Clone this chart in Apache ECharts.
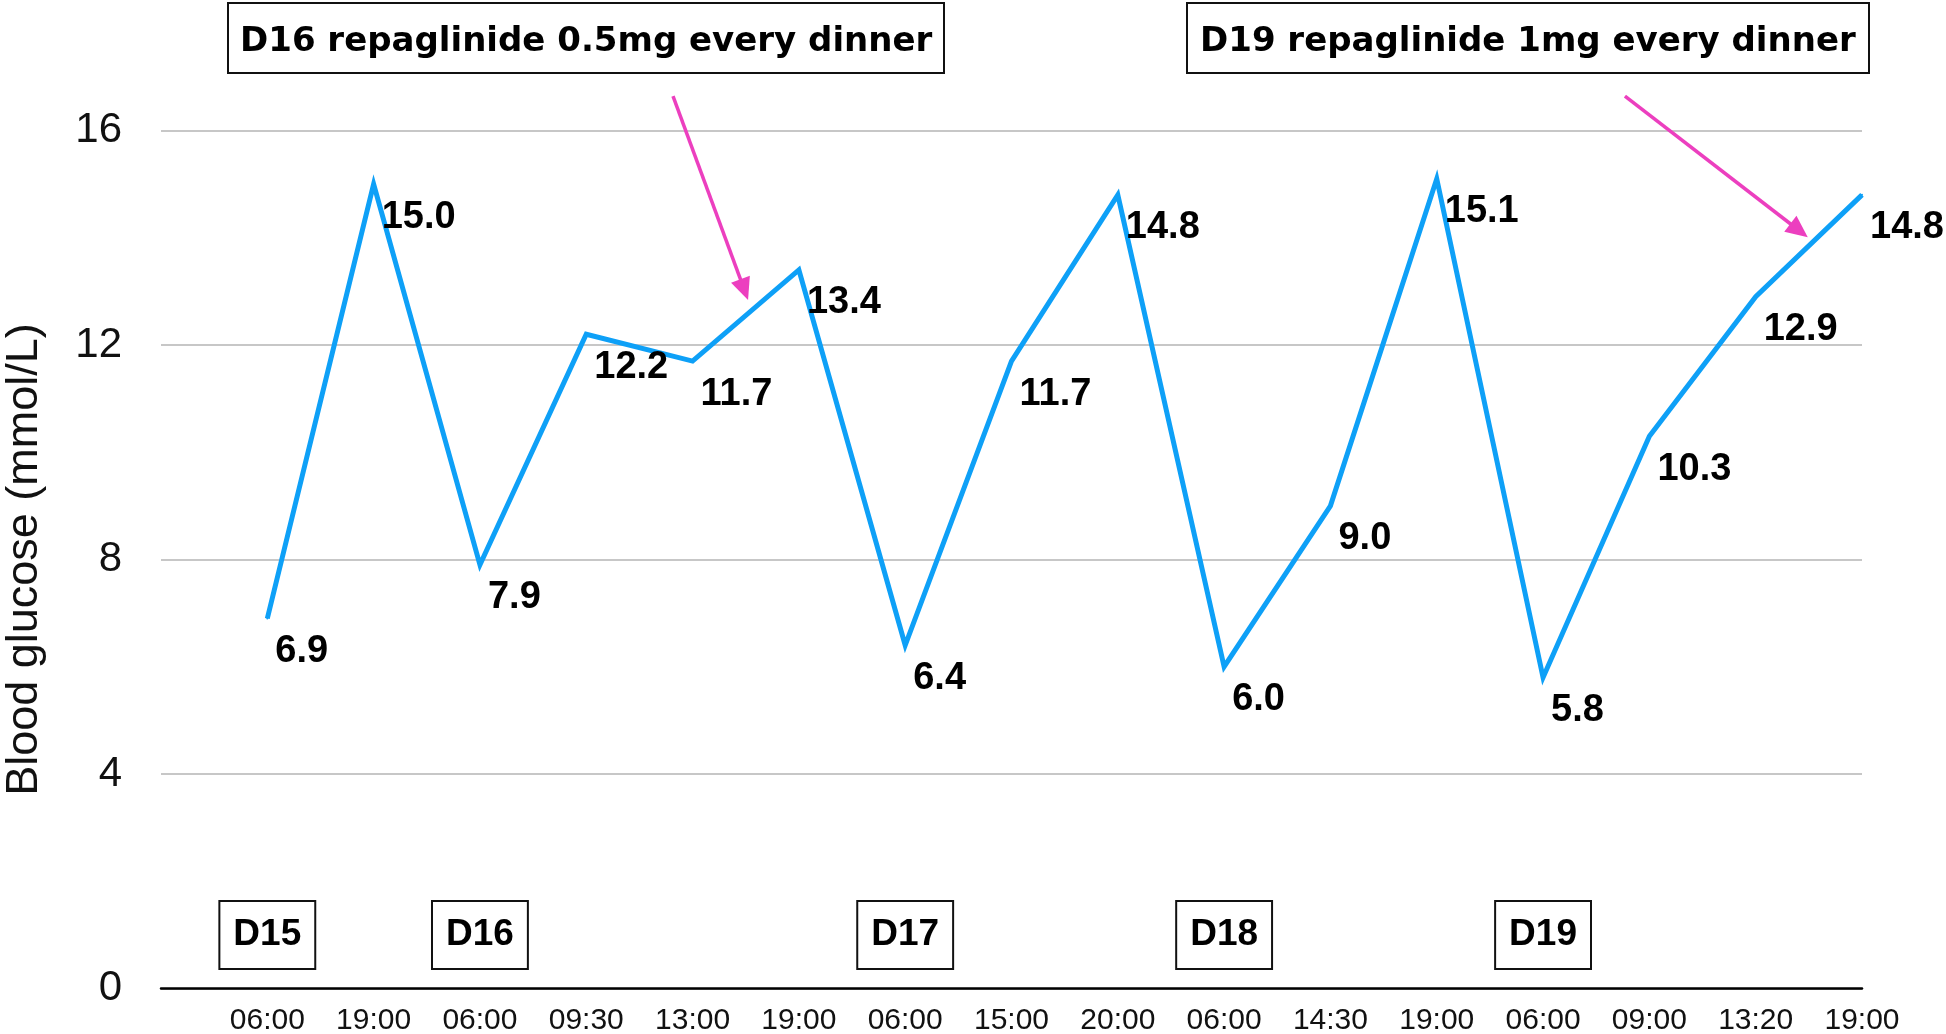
<!DOCTYPE html>
<html>
<head>
<meta charset="utf-8">
<script src="https://cdn.jsdelivr.net/npm/echarts@6/dist/echarts.min.js"></script>
<style>
html,body{margin:0;padding:0;background:#fff;}
#chart{width:1946px;height:1034px;}
</style>
</head>
<body>
<div id="chart"></div>
<script>
// ---- data ----
const timeLabels = ['06:00','19:00','06:00','09:30','13:00','19:00','06:00','15:00','20:00','06:00','14:30','19:00','06:00','09:00','13:20','19:00'];
const glucose = [6.9,15.0,7.9,12.2,11.7,13.4,6.4,11.7,14.8,6.0,9.0,15.1,5.8,10.3,12.9,14.8];
const dayLabels = ['D15','D16','D17','D18','D19'];
const dayStartIndex = [0,2,6,9,12];
const noteTexts = ['D16 repaglinide 0.5mg every dinner','D19 repaglinide 1mg every dinner'];
const yTicks = [0,4,8,12,16];

// ---- chart ----
const chart = echarts.init(document.getElementById('chart'), null, {renderer:'canvas'});
const lineData = glucose.map((v,i)=>[i+1, v]);
const dayData = dayStartIndex.map((idx,k)=>({value:[idx+1, 1.0], name: dayLabels[k]}));

const option = {
  animation:false,
  backgroundColor:'#fff',
  title: [
    {text: noteTexts[0], left: 228, top: 3, padding:[19,12,11,12], borderWidth:2, borderColor:'#111',
     textStyle:{fontFamily:'DejaVu Sans', fontWeight:'bold', fontSize:34, color:'#000', lineHeight:40}},
    {text: noteTexts[1], left: 1187, top: 3, padding:[19,13,11,13], borderWidth:2, borderColor:'#111',
     textStyle:{fontFamily:'DejaVu Sans', fontWeight:'bold', fontSize:34, color:'#000', lineHeight:40}}
  ],
  grid:{left:161, right:84, top:130.5, bottom:45.5, containLabel:false, outerBoundsMode:'none'},
  xAxis:{
    type:'value', min:0, max:16, interval:1,
    axisLine:{show:true, lineStyle:{color:'#000', width:2.5}},
    axisTick:{show:false},
    splitLine:{show:false},
    axisLabel:{
      margin:17, fontFamily:'Liberation Sans', fontSize:30, color:'#111',
      formatter:(v)=> (v>=1 && v<=timeLabels.length && Number.isInteger(v)) ? timeLabels[v-1] : ''
    }
  },
  yAxis:{
    type:'value', min:yTicks[0], max:yTicks[yTicks.length-1], interval:4,
    name:'Blood glucose (mmol/L)', nameLocation:'middle', nameRotate:90, nameGap:114,
    nameTextStyle:{fontFamily:'Liberation Sans', fontSize:45, color:'#111'},
    axisLine:{show:false}, axisTick:{show:false},
    splitLine:{show:true, lineStyle:{color:'#b4b4b4', width:1.5}},
    axisLabel:{margin:39, fontFamily:'Liberation Sans', fontSize:42, color:'#111'}
  },
  series:[
    {
      type:'line', data:lineData,
      symbol:'circle', symbolSize:2, showSymbol:true,
      itemStyle:{color:'#0ea0f7'},
      lineStyle:{color:'#0ea0f7', width:5, join:'miter', miterLimit:20},
      emphasis:{disabled:true},
      label:{
        show:true, position:'right', distance:0, offset:[7,33],
        fontFamily:'Liberation Sans', fontWeight:'bold', fontSize:38, color:'#000',
        formatter:(p)=> p.value[1].toFixed(1)
      },
      z:3
    },
    {
      type:'scatter', data:dayData, symbolSize:0,
      itemStyle:{opacity:1, color:'#fff'},
      emphasis:{disabled:true},
      label:{
        show:true, position:'inside', formatter:(p)=>p.name, opacity:1,
        fontFamily:'Liberation Sans', fontWeight:'bold', fontSize:37, color:'#000',
        lineHeight:38, padding:[15,13,13,13], borderColor:'#111', borderWidth:2, backgroundColor:'#fff'
      },
      z:4
    }
  ]
};
chart.setOption(option);

// ---- annotation arrows (positioned in data space, converted via the grid) ----
const arrows = [
  {from:[4.816,16.64], to:[5.522,12.84]},
  {from:[13.77,16.64], to:[15.49,14.01]}
];
const arrowColor = '#ec3fbf';
const graphics = [];
arrows.forEach(a=>{
  const s = chart.convertToPixel({gridIndex:0}, a.from);
  const t = chart.convertToPixel({gridIndex:0}, a.to);
  const dx = t[0]-s[0], dy = t[1]-s[1];
  const len = Math.sqrt(dx*dx+dy*dy);
  const ux = dx/len, uy = dy/len;
  const nx = -uy, ny = ux;
  const headLen = 22, headHalf = 10;
  const bx = t[0]-ux*headLen, by = t[1]-uy*headLen;
  graphics.push({type:'line', shape:{x1:s[0], y1:s[1], x2:bx+ux*2, y2:by+uy*2},
    style:{stroke:arrowColor, lineWidth:3.5}, z:10, silent:true});
  graphics.push({type:'polygon', shape:{points:[[t[0],t[1]],[bx+nx*headHalf, by+ny*headHalf],[bx-nx*headHalf, by-ny*headHalf]]},
    style:{fill:arrowColor}, z:10, silent:true});
});
chart.setOption({graphic: graphics});
</script>
</body>
</html>
